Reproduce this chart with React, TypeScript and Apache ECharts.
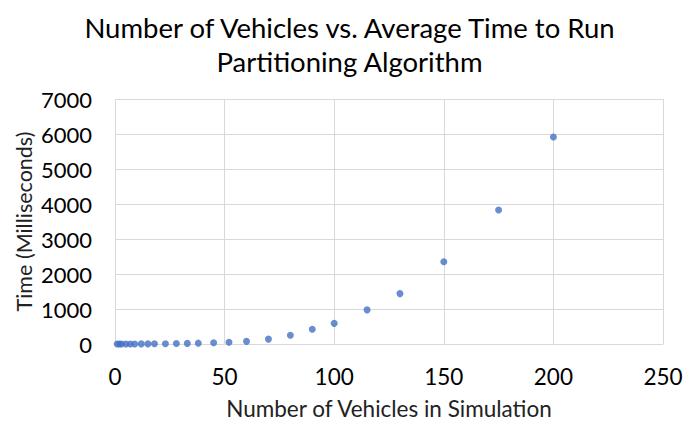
import React, { useEffect, useRef } from "react";
import * as echarts from "echarts";

const vehicles = [1, 2, 3, 5, 7, 9, 12, 15, 18, 23, 28, 33, 38, 45, 52, 60, 70, 80, 90, 100, 115, 130, 150, 175, 200];
const timeMs = [0.2, 0.4, 0.6, 1, 1.5, 2, 3, 4, 5, 8, 12, 17, 24, 35, 50, 75, 140, 250, 420, 590, 975, 1440, 2350, 3830, 5915];

const titleLines = ["Number of Vehicles vs. Average Time to Run", "Partitioning Algorithm"];
const xName = "Number of Vehicles in Simulation";
const yName = "Time (Milliseconds)";

const FONT = "Lato, 'Open Sans', sans-serif";

export default function App() {
  const ref = useRef<HTMLDivElement>(null);
  useEffect(() => {
    if (!ref.current) return;
    const chart = echarts.init(ref.current, undefined, { renderer: "svg" });
    const data = vehicles.map((v, i) => [v, timeMs[i]]);
    chart.setOption({
      animation: false,
      backgroundColor: "#ffffff",
      title: {
        text: titleLines.join("\n"),
        left: "center",
        top: 5,
        textStyle: { fontFamily: FONT, fontSize: 27.5, fontWeight: "normal", color: "#000", lineHeight: 34 },
      },
      grid: { left: 115, right: 36, top: 99, bottom: 77, containLabel: false, outerBoundsMode: "none" },
      xAxis: {
        type: "value",
        min: 0,
        max: 250,
        interval: 50,
        name: xName,
        nameLocation: "middle",
        nameGap: 53,
        nameMoveOverlap: false,
        nameTextStyle: { fontFamily: FONT, fontSize: 22.5, color: "#222" },
        axisLine: { show: true, lineStyle: { color: "#d9d9d9", width: 1 } },
        axisTick: { show: false },
        axisLabel: { fontFamily: FONT, fontSize: 22.5, color: "#000", margin: 21 },
        splitLine: { show: true, lineStyle: { color: "#d9d9d9", width: 1 } },
      },
      yAxis: {
        type: "value",
        min: 0,
        max: 7000,
        interval: 1000,
        name: yName,
        nameLocation: "middle",
        nameGap: 80,
        nameMoveOverlap: false,
        nameTextStyle: { fontFamily: FONT, fontSize: 21.5, color: "#222" },
        axisLine: { show: false },
        axisTick: { show: false },
        axisLabel: { fontFamily: FONT, fontSize: 22, color: "#000", margin: 23, formatter: (v: number) => String(v) },
        splitLine: { show: true, lineStyle: { color: "#d9d9d9", width: 1 } },
      },
      series: [
        {
          type: "scatter",
          data,
          symbol: "circle",
          symbolSize: 7,
          itemStyle: { color: "#4472C4" },
        },
      ],
    });
    return () => chart.dispose();
  }, []);
  return <div ref={ref} style={{ width: 699, height: 421, position: "absolute", left: 0, top: 0 }} />;
}
